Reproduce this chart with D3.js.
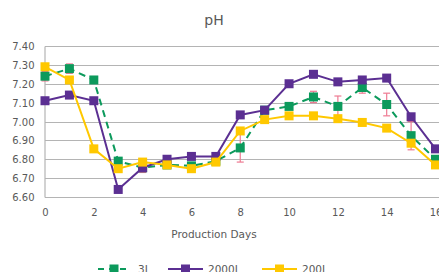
<!DOCTYPE html>
<html>
<head>
<meta charset="utf-8">
<script src="https://cdn.jsdelivr.net/npm/d3@7"></script>
<style>
  body { margin: 0; background: #fff; }
  text { font-family: "DejaVu Sans", Verdana, sans-serif; fill: #595959; }
</style>
</head>
<body>
<svg id="chart"></svg>
<script>
// data
const days = [0, 1, 2, 3, 4, 5, 6, 7, 8, 9, 10, 11, 12, 13, 14, 15, 16];
const ph3L =    [7.24, 7.28, 7.22, 6.79, 6.755, 6.77, 6.765, 6.79, 6.86, 7.06, 7.08, 7.13, 7.08, 7.18, 7.09, 6.925, 6.80];
const err3L =   [0.025, 0.025, 0, 0, 0.025, 0, 0, 0, 0.075, 0, 0, 0.03, 0.055, 0.03, 0.06, 0.075, 0];
const ph2000L = [7.11, 7.14, 7.11, 6.64, 6.755, 6.80, 6.815, 6.815, 7.035, 7.06, 7.20, 7.25, 7.21, 7.22, 7.23, 7.025, 6.855];
const ph200L =  [7.29, 7.22, 6.855, 6.75, 6.785, 6.77, 6.75, 6.785, 6.95, 7.01, 7.03, 7.03, 7.015, 6.995, 6.965, 6.885, 6.77];
const xTicks = [0, 2, 4, 6, 8, 10, 12, 14, 16];
const yTicks = [6.6, 6.7, 6.8, 6.9, 7.0, 7.1, 7.2, 7.3, 7.4];

const series = [
  { name: "3L", values: ph3L, err: err3L, color: "#0c9a5c", dash: "7,5" },
  { name: "2000L", values: ph2000L, color: "#5b2f92", dash: null },
  { name: "200L", values: ph200L, color: "#ffc800", dash: null }
];

const W = 439, H = 272;
const svg = d3.select("#chart").attr("width", W).attr("height", H);

const x = d3.scaleLinear().domain([0, 16]).range([45, 435.5]);
const y = d3.scaleLinear().domain([6.6, 7.4]).range([197, 46]);

// gridlines
svg.append("g")
  .selectAll("line")
  .data(yTicks)
  .enter().append("line")
  .attr("x1", x(0)).attr("x2", W + 10)
  .attr("y1", d => Math.round(y(d)) + 0.5).attr("y2", d => Math.round(y(d)) + 0.5)
  .attr("stroke", "#b4b4b4").attr("stroke-width", 1.2);

// left axis
const yAxis = svg.append("g")
  .attr("transform", `translate(${x(0) - 0.5},0)`)
  .call(d3.axisLeft(y).tickValues(yTicks).tickFormat(d3.format(".2f")).tickSize(0).tickPadding(10));
yAxis.select(".domain").attr("stroke", "#b4b4b4").attr("stroke-width", 1.2);
yAxis.selectAll("text").style("font-size", "10px").attr("fill", "#595959").attr("dy", "0.35em");

// bottom axis labels
const xAxis = svg.append("g")
  .attr("transform", `translate(0,${y(6.6)})`)
  .call(d3.axisBottom(x).tickValues(xTicks).tickFormat(d3.format("d")).tickSize(0).tickPadding(12));
xAxis.select(".domain").remove();
xAxis.selectAll("text").style("font-size", "10px").attr("fill", "#595959");

// titles
svg.append("text").attr("x", 214).attr("y", 25).attr("text-anchor", "middle")
  .style("font-size", "14px").text("pH");
svg.append("text").attr("x", 214).attr("y", 238).attr("text-anchor", "middle")
  .style("font-size", "10.5px").text("Production Days");

const line = d3.line().x((d, i) => x(days[i])).y(d => y(d));

series.forEach(s => {
  const g = svg.append("g");
  g.append("path")
    .attr("d", line(s.values))
    .attr("fill", "none")
    .attr("stroke", s.color)
    .attr("stroke-width", 2)
    .attr("stroke-dasharray", s.dash);

  if (s.err) {
    const eb = g.append("g").attr("stroke", "#ee7a92").attr("stroke-width", 1.2);
    s.values.forEach((v, i) => {
      if (!s.err[i]) return;
      const cx = x(days[i]);
      eb.append("line").attr("x1", cx).attr("x2", cx).attr("y1", y(v - s.err[i])).attr("y2", y(v + s.err[i]));
      eb.append("line").attr("x1", cx - 3.5).attr("x2", cx + 3.5).attr("y1", y(v - s.err[i])).attr("y2", y(v - s.err[i]));
      eb.append("line").attr("x1", cx - 3.5).attr("x2", cx + 3.5).attr("y1", y(v + s.err[i])).attr("y2", y(v + s.err[i]));
    });
  }

  g.selectAll("rect")
    .data(s.values)
    .enter().append("rect")
    .attr("x", (d, i) => x(days[i]) - 4.5)
    .attr("y", d => y(d) - 4.5)
    .attr("width", 9).attr("height", 9)
    .attr("fill", s.color);
});

// legend
const legendItems = [
  { s: series[0], x1: 98, x2: 130, tx: 138 },
  { s: series[1], x1: 168, x2: 203, tx: 208 },
  { s: series[2], x1: 262, x2: 297, tx: 302 }
];
const ly = 269;
legendItems.forEach(it => {
  const g = svg.append("g");
  g.append("line").attr("x1", it.x1).attr("x2", it.x2).attr("y1", ly).attr("y2", ly)
    .attr("stroke", it.s.color).attr("stroke-width", 2).attr("stroke-dasharray", it.s.dash ? "6,5" : null);
  const mx = (it.x1 + it.x2) / 2;
  g.append("rect").attr("x", mx - 4.5).attr("y", ly - 4.5).attr("width", 9).attr("height", 9).attr("fill", it.s.color);
  g.append("text").attr("x", it.tx).attr("y", ly + 4).style("font-size", "10.5px").text(it.s.name);
});
</script>
</body>
</html>
